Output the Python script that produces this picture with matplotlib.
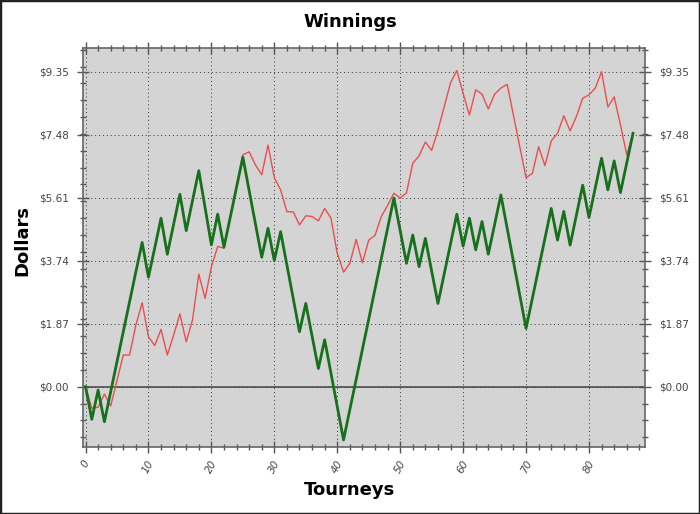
import matplotlib
matplotlib.use("Agg")
import matplotlib.pyplot as plt
from matplotlib.ticker import MultipleLocator, FixedLocator, FuncFormatter
from matplotlib.patches import Rectangle

tourneys = list(range(88))
green_series = [0, -0.97, -0.10, -1.04, -0.15, 0.74, 1.63, 2.52, 3.41, 4.28,
                3.25, 4.12, 5.00, 3.93, 4.82, 5.71, 4.63, 5.52, 6.41, 5.31,
                4.21, 5.12, 4.14, 5.03, 5.92, 6.81, 5.82, 4.83, 3.84, 4.70,
                3.74, 4.60, 3.61, 2.62, 1.63, 2.47, 1.50, 0.54, 1.39, 0.40,
                -0.59, -1.58, -0.68, 0.21, 1.11, 2.00, 2.90, 3.80, 4.70, 5.60,
                4.63, 3.66, 4.50, 3.56, 4.40, 3.43, 2.47, 3.35, 4.24, 5.12,
                4.17, 5.00, 4.06, 4.90, 3.93, 4.81, 5.69, 4.70, 3.71, 2.72,
                1.73, 2.62, 3.51, 4.40, 5.29, 4.35, 5.20, 4.20, 5.09, 5.98,
                5.02, 5.90, 6.78, 5.84, 6.70, 5.76, 6.64, 7.52]
red_series = [0, -0.64, -0.61, -0.22, -0.57, 0.18, 0.94, 0.94, 1.83, 2.49,
              1.48, 1.22, 1.70, 0.94, 1.53, 2.16, 1.33, 1.98, 3.34, 2.62,
              3.56, 4.16, 4.11, 5.03, 5.95, 6.88, 6.97, 6.58, 6.29, 7.17,
              6.20, 5.84, 5.19, 5.19, 4.80, 5.07, 5.05, 4.92, 5.29, 5.00,
              3.96, 3.40, 3.66, 4.37, 3.68, 4.35, 4.49, 5.05, 5.38, 5.74,
              5.60, 5.75, 6.63, 6.85, 7.26, 7.01, 7.61, 8.31, 9.02, 9.38,
              8.70, 8.06, 8.81, 8.68, 8.24, 8.68, 8.86, 8.97, 8.05, 7.12,
              6.20, 6.33, 7.12, 6.56, 7.29, 7.52, 8.04, 7.59, 8.02, 8.56,
              8.66, 8.86, 9.35, 8.30, 8.60, 7.77, 6.88, 7.52]
y_ticks = [0.00, 1.87, 3.74, 5.61, 7.48, 9.35]
x_ticks = [0, 10, 20, 30, 40, 50, 60, 70, 80]

fig = plt.figure(figsize=(7.0, 5.14), dpi=100)
fig.patch.set_facecolor("white")
ax = fig.add_axes([83/700, 1-447/514, (645-83)/700, (447-48)/514])
ax.set_facecolor("#d4d4d4")

ax.plot(tourneys, red_series, color="#e8504f", lw=1.0, zorder=3)
ax.plot(tourneys, green_series, color="#17701c", lw=2.0, zorder=4)
ax.axhline(0, color="#444444", lw=1.1, zorder=2)

ax.set_xlim(-0.4, 88.9)
ax.set_ylim(-1.79, 10.05)

ax.yaxis.set_major_locator(FixedLocator(y_ticks))
ax.yaxis.set_minor_locator(MultipleLocator(0.5))
ax.yaxis.set_major_formatter(FuncFormatter(lambda v, p: "${:.2f}".format(v)))
ax.xaxis.set_major_locator(FixedLocator(x_ticks))
ax.xaxis.set_minor_locator(MultipleLocator(2))

ax.grid(True, which="major", color="#333333", linestyle=(0, (1, 3)), lw=0.7)
ax.tick_params(axis="both", which="major", direction="inout", length=8,
               width=1, color="#555555", labelsize=7.5, labelcolor="#444444")
ax.tick_params(axis="both", which="minor", direction="inout", length=5,
               width=1, color="#555555")
ax.tick_params(axis="y", which="both", left=True, right=True,
               labelleft=True, labelright=True, pad=6)
ax.tick_params(axis="x", which="both", bottom=True, top=True, pad=4)
for lab in ax.get_xticklabels():
    lab.set_rotation(62)
    lab.set_fontstyle("italic")

for s in ax.spines.values():
    s.set_color("#666666")
    s.set_linewidth(1.2)

fig.text(0.5, 1-22/514, "Winnings", ha="center", va="center",
         fontsize=13, fontweight="bold")
fig.text(0.5, 1-490/514, "Tourneys", ha="center", va="center",
         fontsize=13, fontweight="bold")
fig.text(22/700, 1-240/514, "Dollars", ha="center", va="center",
         rotation=90, fontsize=13, fontweight="bold")

fig.patches.append(Rectangle((0, 0), 1, 1, transform=fig.transFigure,
                             fill=False, edgecolor="#222222", lw=2.5))

fig.savefig("out.png", dpi=100)
